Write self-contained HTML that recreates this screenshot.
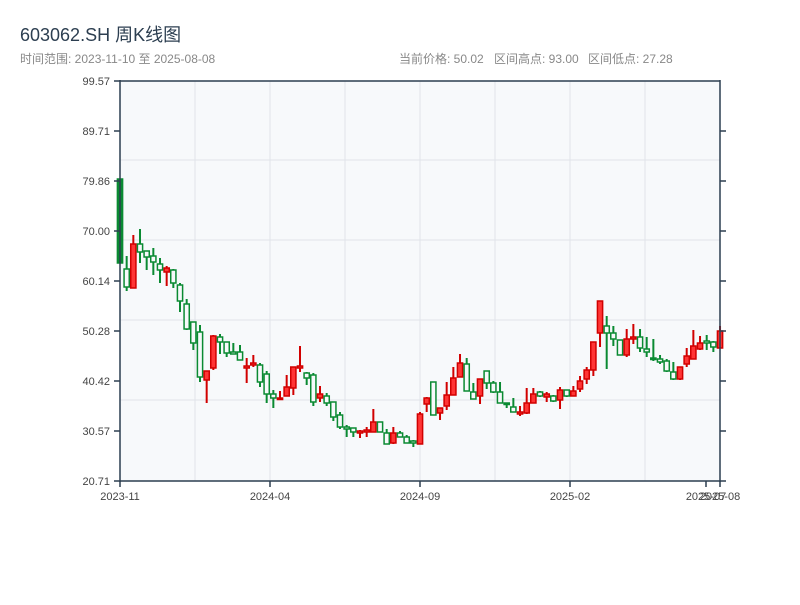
<!DOCTYPE html>
<html><head><meta charset="utf-8"><style>
body{margin:0;background:#fff;width:800px;height:600px;overflow:hidden;font-family:"Liberation Sans","Noto Sans CJK SC",sans-serif}
svg text{font-family:"Liberation Sans","Noto Sans CJK SC",sans-serif}
</style></head><body>
<svg id="s" width="800" height="600" xmlns="http://www.w3.org/2000/svg">
<text x="20" y="41" font-size="18" fill="#2c3e50">603062.SH 周K线图</text>
<text x="20" y="63" font-size="12" fill="#888">时间范围: 2023-11-10 至 2025-08-08</text>
<text x="399" y="63" font-size="12" fill="#888">当前价格: 50.02</text>
<text x="494" y="63" font-size="12" fill="#888">区间高点: 93.00</text>
<text x="588" y="63" font-size="12" fill="#888">区间低点: 27.28</text>
<rect x="120" y="81" width="600" height="400" fill="#f7f9fb"/>
<g stroke="#e1e4e9" stroke-width="1">
<line x1="195" y1="81" x2="195" y2="481"/><line x1="270" y1="81" x2="270" y2="481"/>
<line x1="345" y1="81" x2="345" y2="481"/><line x1="420" y1="81" x2="420" y2="481"/>
<line x1="495" y1="81" x2="495" y2="481"/><line x1="570" y1="81" x2="570" y2="481"/>
<line x1="645" y1="81" x2="645" y2="481"/>
<line x1="120" y1="160" x2="720" y2="160"/><line x1="120" y1="240" x2="720" y2="240"/>
<line x1="120" y1="320" x2="720" y2="320"/><line x1="120" y1="400" x2="720" y2="400"/>
</g>
<g id="c"></g>
<g stroke="#2c3e50" stroke-width="1.5" fill="none">
<line x1="120" y1="81" x2="720" y2="81"/>
<line x1="120" y1="80" x2="120" y2="482"/>
<line x1="120" y1="481" x2="720" y2="481"/>
<line x1="720" y1="80" x2="720" y2="482"/>
<line x1="114" y1="81" x2="120" y2="81"/><line x1="114" y1="131" x2="120" y2="131"/>
<line x1="114" y1="181" x2="120" y2="181"/><line x1="114" y1="231" x2="120" y2="231"/>
<line x1="114" y1="281" x2="120" y2="281"/><line x1="114" y1="331" x2="120" y2="331"/>
<line x1="114" y1="381" x2="120" y2="381"/><line x1="114" y1="431" x2="120" y2="431"/>
<line x1="114" y1="481" x2="120" y2="481"/>
<line x1="720" y1="131" x2="726" y2="131"/><line x1="720" y1="181" x2="726" y2="181"/>
<line x1="720" y1="231" x2="726" y2="231"/><line x1="720" y1="281" x2="726" y2="281"/>
<line x1="720" y1="331" x2="726" y2="331"/><line x1="720" y1="381" x2="726" y2="381"/>
<line x1="720" y1="431" x2="726" y2="431"/><line x1="720" y1="481" x2="726" y2="481"/>
<line x1="120" y1="481" x2="120" y2="487"/><line x1="270" y1="481" x2="270" y2="487"/>
<line x1="420" y1="481" x2="420" y2="487"/><line x1="570" y1="481" x2="570" y2="487"/>
<line x1="706" y1="481" x2="706" y2="487"/><line x1="720" y1="481" x2="720" y2="487"/>
</g>
<g font-size="11" fill="#444" text-anchor="end">
<text x="110" y="85">99.57</text><text x="110" y="135">89.71</text><text x="110" y="185">79.86</text>
<text x="110" y="235">70.00</text><text x="110" y="285">60.14</text><text x="110" y="335">50.28</text>
<text x="110" y="385">40.42</text><text x="110" y="435">30.57</text><text x="110" y="485">20.71</text>
</g>
<g font-size="11" fill="#444" text-anchor="middle">
<text x="120" y="500">2023-11</text><text x="270" y="500">2024-04</text><text x="420" y="500">2024-09</text>
<text x="570" y="500">2025-02</text><text x="706" y="500">2025-07</text><text x="720" y="500">2025-08</text>
</g>
</svg>
<script>
var d=[[179,263,179,263,0,1],[269,287,256,291,0],[244,288,235,288,1],[244,252,229,263,0],[251,257,251,270,0],[256,262,248,275,0],[264,270,258,283,0],[268,272,266,286,1],[270,283,269,288,0],[285,301,283,312,0],[304,329,299,330,0],[322,343,322,350,0],[332,377,325,382,0],[371,380,371,403,1],[336,368,335,370,1],[337,342,334,354,0],[342,353,342,357,0],[352,354,343,354,0],[352,360,345,360,0],[366,368,358,383,1],[363,365,355,367,1],[365,382,363,387,0],[374,394,371,403,0],[394,398,390,408,0],[398,399,391,399,1],[387,396,375,396,1],[367,388,367,395,1],[366,368,346,372,1],[373,378,372,385,0],[375,402,373,406,0],[394,398,386,402,1],[396,403,393,406,0],[402,417,402,421,0],[415,427,412,429,0],[427,429,425,437,0],[428,432,428,437,0],[431,433,430,438,1],[430,432,427,437,1],[422,432,409,432,1],[422,432,422,432,0],[433,444,429,444,0],[433,443,427,444,1],[433,437,431,437,0],[437,443,435,443,0],[441,443,440,447,0],[414,444,412,444,1],[398,404,397,412,1],[382,415,382,415,0],[408,413,408,420,1],[395,406,382,410,1],[378,395,367,395,1],[363,377,354,377,1],[364,391,358,391,0],[392,399,383,399,0],[379,396,379,404,1],[371,383,371,389,0],[383,392,381,393,0],[392,403,382,403,0],[403,404,403,408,0],[407,412,398,412,0],[412,414,406,416,1],[403,413,388,414,1],[394,403,388,403,1],[392,396,391,397,0],[394,397,392,402,1],[396,401,395,402,0],[390,400,387,409,1],[390,396,390,397,0],[391,396,386,396,1],[381,389,376,392,1],[370,379,367,384,1],[342,370,342,376,1],[301,333,301,347,1],[326,333,316,369,0],[333,339,326,346,0],[340,355,340,355,0],[339,355,329,357,1],[337,339,324,344,1],[337,348,329,352,0],[349,352,337,357,0],[358,359,339,361,0],[359,362,355,364,0],[361,371,359,372,0],[372,379,362,380,0],[367,379,367,380,1],[356,364,348,367,1],[346,359,330,359,1],[343,349,336,350,1],[341,343,335,350,0],[342,347,341,352,0],[331,348,326,348,1]];
var g=document.getElementById('c'),h='';
d.forEach(function(c,i){var x=120+i*6.667,r=c[4],col=r?'#d10000':'#0a8a32';
h+='<line x1="'+x+'" y1="'+c[2]+'" x2="'+x+'" y2="'+c[3]+'" stroke="'+col+'" stroke-width="2"/>';
var bh=Math.max(c[1]-c[0],1.5);
h+='<rect x="'+(x-2.6)+'" y="'+c[0]+'" width="5.2" height="'+bh+'" fill="'+(r?'#ff3535':(c[5]?col:'#f7f9fb'))+'" stroke="'+col+'" stroke-width="1.5"/>';});
g.innerHTML=h;
</script>
</body></html>
